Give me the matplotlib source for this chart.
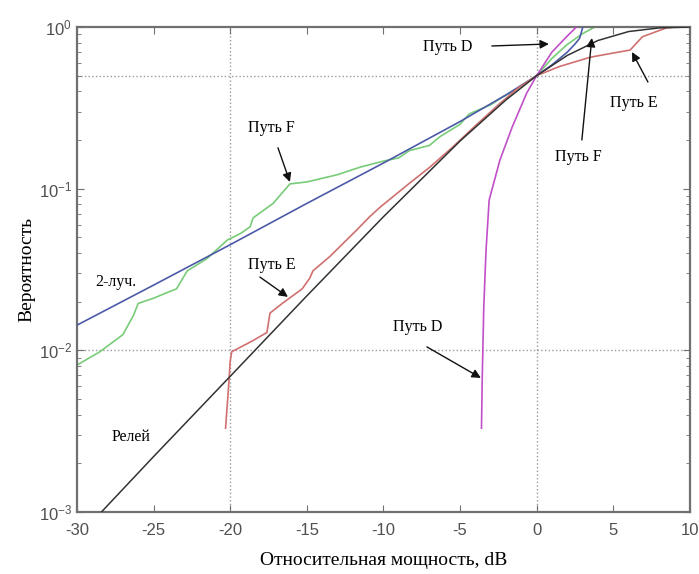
import matplotlib
matplotlib.use("Agg")
import matplotlib.pyplot as plt
from matplotlib.ticker import LogLocator, NullFormatter

# Relative power levels (dB) and cumulative probabilities for each channel model
rayleigh_x = [-28.4, -25, -20, -15, -10, -5, -2, 0, 2, 4, 6, 8, 10]
rayleigh_p = [0.001, 0.0022, 0.0069, 0.0217, 0.067, 0.197, 0.354, 0.5, 0.667, 0.825, 0.937, 0.987, 0.999]

two_ray_x = [-30, -25, -20, -15, -10, -5, -2, 0, 1, 2, 2.5, 2.8, 3.0]
two_ray_p = [0.0143, 0.0253, 0.045, 0.081, 0.144, 0.26, 0.38, 0.5, 0.583, 0.699, 0.784, 0.85, 0.99]

path_f_x = [-30, -28.5, -27, -26.3, -26.0, -25, -24, -23.5, -22.8, -21.5, -20.2, -19.3, -18.7, -18.5,
            -17.2, -16.1, -15, -13, -11.5, -10, -9, -8.3, -7, -6.3, -5, -4.4, -3, -2.4, -1, 0,
            1, 2, 3, 3.8]
path_f_p = [0.0081, 0.0098, 0.0125, 0.0165, 0.0195, 0.021, 0.023, 0.024, 0.031, 0.037, 0.048, 0.053,
            0.058, 0.066, 0.081, 0.107, 0.11, 0.122, 0.136, 0.148, 0.155, 0.172, 0.185, 0.21, 0.25,
            0.29, 0.33, 0.36, 0.43, 0.5, 0.64, 0.78, 0.91, 1.0]

path_e_x = [-20.3, -20.1, -20.0, -19.9, -18.5, -17.6, -17.4, -16.6, -15.3, -14.8, -14.6, -13.5,
            -11.7, -10.9, -10.2, -8.3, -7, -5.5, -4, -2.5, -1.2, 0, 1.5, 3.5, 5, 6.1, 6.9, 8.5, 9.1]
path_e_p = [0.0033, 0.006, 0.0085, 0.0098, 0.0115, 0.0129, 0.017, 0.0195, 0.024, 0.028, 0.031, 0.038,
            0.056, 0.067, 0.077, 0.108, 0.135, 0.18, 0.245, 0.33, 0.42, 0.5, 0.57, 0.65, 0.69, 0.72,
            0.87, 0.99, 1.0]

path_d_x = [-3.6, -3.55, -3.45, -3.3, -3.1, -2.4, -1.6, -0.65, 0, 1, 2, 2.6]
path_d_p = [0.0033, 0.0068, 0.0186, 0.042, 0.085, 0.15, 0.24, 0.39, 0.5, 0.70, 0.88, 1.0]

x_ticks = [-30, -25, -20, -15, -10, -5, 0, 5, 10]

SERIF = "Liberation Serif"
plt.rcParams["font.family"] = "Liberation Sans"
plt.rcParams["mathtext.default"] = "regular"
plt.rcParams["axes.unicode_minus"] = False

fig = plt.figure(figsize=(6.99, 5.74), dpi=100)
ax = fig.add_axes([0.110, 0.108, 0.877, 0.845])

# Reference grid lines
for gx in (-20, 0):
    ax.axvline(gx, color="#9a9a9a", ls=":", lw=1.0, zorder=1)
for gy in (0.01, 0.5):
    ax.axhline(gy, color="#9a9a9a", ls=":", lw=1.0, zorder=1)

ax.plot(path_f_x, path_f_p, color="#78cc78", lw=1.2, zorder=2)
ax.plot(two_ray_x, two_ray_p, color="#4c5aa8", lw=1.2, zorder=3)
ax.plot(path_e_x, path_e_p, color="#d07070", lw=1.2, zorder=3)
ax.plot(path_d_x, path_d_p, color="#c050c8", lw=1.2, zorder=3)
ax.plot(rayleigh_x, rayleigh_p, color="#333333", lw=1.1, zorder=4)

ax.set_yscale("log")
ax.set_xlim(-30, 10)
ax.set_ylim(1e-3, 1)
ax.set_xticks(x_ticks)
ax.yaxis.set_major_locator(LogLocator(base=10, numticks=10))
ax.yaxis.set_minor_locator(LogLocator(base=10, subs=range(2, 10), numticks=20))
ax.yaxis.set_minor_formatter(NullFormatter())

for s in ax.spines.values():
    s.set_color("#707070")
    s.set_linewidth(1.6)
ax.tick_params(which="both", direction="in", top=True, right=True, color="#707070")
ax.tick_params(which="major", length=5, labelsize=12, labelcolor="#505050")
ax.tick_params(which="minor", length=3)
ax.tick_params(axis="x", pad=8)

ax.set_xlabel("Относительная мощность, dB", family=SERIF, fontsize=14, labelpad=10)
ax.set_ylabel("Вероятность", family=SERIF, fontsize=14, labelpad=2)

# Curve labels and pointer arrows
labels = [
    ("Путь F", -17.28, 0.237),
    ("2-луч.", -27.45, 0.0265),
    ("Путь E", -17.28, 0.0337),
    ("Релей", -26.48, 0.00291),
    ("Путь D", -7.75, 0.0139),
    ("Путь D", -5.79, 0.752),
    ("Путь E", 6.35, 0.339),
    ("Путь F", 2.69, 0.157),
]
for text, tx, ty in labels:
    ax.text(tx, ty, text, family=SERIF, fontsize=11.5, ha="center", va="center", zorder=5)

arrows = [
    ((-16.88, 0.179), (-16.1, 0.110)),
    ((-18.06, 0.0284), (-16.23, 0.0214)),
    ((-7.16, 0.0105), (-3.64, 0.00675)),
    ((-2.92, 0.763), (0.80, 0.785)),
    ((7.26, 0.457), (6.22, 0.70)),
    ((2.95, 0.20), (3.6, 0.855)),
]
for tail, tip in arrows:
    ax.annotate("", xy=tip, xytext=tail,
                arrowprops=dict(arrowstyle="-|>", color="#111111", lw=1.0,
                                mutation_scale=13, shrinkA=0, shrinkB=0),
                zorder=6)

fig.savefig("out.png", dpi=100)
